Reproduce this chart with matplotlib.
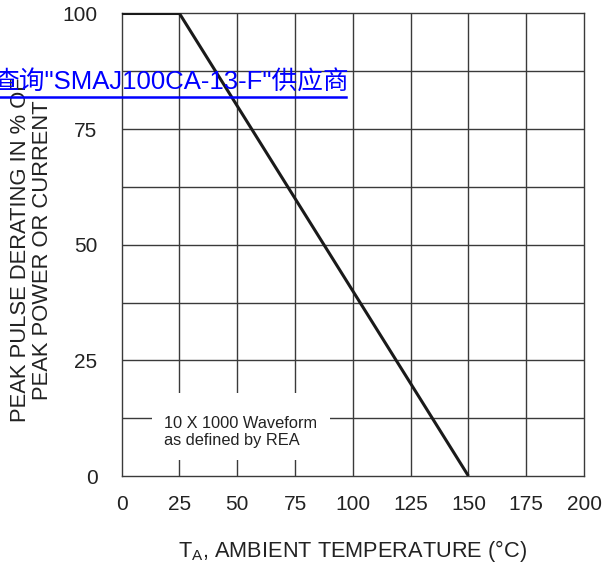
import matplotlib
matplotlib.use("Agg")
import matplotlib.pyplot as plt
import numpy as np

# Data
temp_c = [0, 25, 150]
derating_pct = [100, 100, 0]
x_ticks = [0, 25, 50, 75, 100, 125, 150, 175, 200]
y_ticks = [0, 25, 50, 75, 100]
y_grid = [12.5, 25, 37.5, 50, 62.5, 75, 87.5]
x_grid = [25, 50, 75, 100, 125, 150, 175]

plt.rcParams['font.family'] = ['Liberation Sans', 'DejaVu Sans']

fig = plt.figure(figsize=(6.05, 5.65), dpi=100)
ax = fig.add_axes([121.7/605, (565-476)/565, (584-121.7)/605, (476-13.5)/565])
ax.set_xlim(0, 200)
ax.set_ylim(0, 100)

gc = '#3a3a3a'
for xv in x_grid:
    ax.axvline(xv, color=gc, lw=1.0, zorder=1)
for yv in y_grid:
    ax.axhline(yv, color=gc, lw=1.0, zorder=1)
for s in ax.spines.values():
    s.set_color(gc)
    s.set_linewidth(1.0)

ax.plot(temp_c, derating_pct, color='#1a1a1a', lw=2.2, zorder=4, solid_capstyle='butt')

# white box behind note
ax.fill_between([13, 90], 3.5, 18, color='white', zorder=2, lw=0)
ax.text(18.5, 13.0, "10 X 1000 Waveform\nas defined by REA", fontsize=11.8,
        color='#222222', va='top', ha='left', zorder=3, linespacing=1.2)

ax.set_xticks(x_ticks)
ax.set_yticks(y_ticks)
ax.tick_params(length=0, labelsize=15, colors='#222222')
ax.tick_params(axis='x', pad=14)
ax.tick_params(axis='y', pad=17.5)

ax.set_xlabel("T$_\\mathregular{A}$, AMBIENT TEMPERATURE (°C)", fontsize=15.7, color='#222222', labelpad=17)
ax.set_ylabel("PEAK PULSE DERATING IN % OF\nPEAK POWER OR CURRENT", fontsize=15.8, color='#222222',
              linespacing=1.05)
ax.yaxis.set_label_coords(-(121.7-53)/462.3, (476-250)/462.5)

# Overlay link text
fig.text(-7/605, 1-88.3/565, '查询"SMAJ100CA-13-F"供应商', fontsize=18.5, color='#0000ff',
         family=['Liberation Sans', 'Noto Sans CJK SC'], ha='left', va='baseline', zorder=10)
fig.add_artist(plt.Line2D([0, 346/605], [1-97.5/565, 1-97.5/565], color='#0000ff', lw=1.8,
                          transform=fig.transFigure))

fig.savefig("out.png", dpi=100)
